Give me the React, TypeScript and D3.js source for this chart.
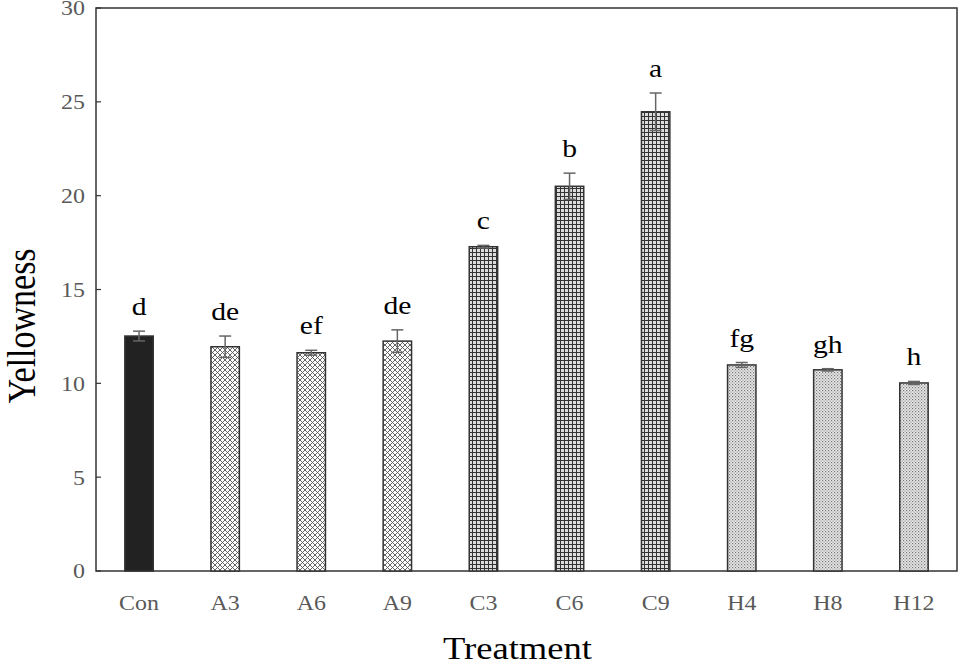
import React from "react";
import * as d3 from "d3";

const categories = ["Con", "A3", "A6", "A9", "C3", "C6", "C9", "H4", "H8", "H12"];
const values = [12.52, 11.95, 11.63, 12.25, 17.28, 20.5, 24.47, 10.98, 10.72, 10.02];
const errors = [0.26, 0.57, 0.13, 0.6, 0.07, 0.7, 1.0, 0.13, 0.06, 0.08];
const letters = ["d", "de", "ef", "de", "c", "b", "a", "fg", "gh", "h"];
const groups = ["solid", "cross", "cross", "cross", "grid", "grid", "grid", "dots", "dots", "dots"];
const yTicks = [0, 5, 10, 15, 20, 25, 30];

const W = 959, H = 664;
const M = { left: 96, right: 2, top: 8, bottom: 93 };
const SX = 1.14;

export default function App() {
  const x = d3.scaleBand<string>().domain(categories).range([M.left, W - M.right]).paddingInner(0.67).paddingOuter(0.335);
  const y = d3.scaleLinear().domain([0, 30]).range([H - M.bottom, M.top]);
  const fillFor = (g: string) =>
    g === "solid" ? "#222" : g === "cross" ? "url(#pCross)" : g === "grid" ? "url(#pGrid)" : "url(#pDots)";
  const font = "'Liberation Serif', 'Times New Roman', serif";
  return (
    <svg width={W} height={H} style={{ position: "absolute", left: 0, top: 0 }} fontFamily={font}>
      <defs>
        <pattern id="pCross" width="5" height="5" patternUnits="userSpaceOnUse">
          <rect width="5" height="5" fill="#fff" />
          <path d="M0,0 L5,5 M5,0 L0,5" stroke="#555" strokeWidth="0.9" />
        </pattern>
        <pattern id="pGrid" width="4" height="4" patternUnits="userSpaceOnUse">
          <rect width="4" height="4" fill="#ddd" />
          <path d="M0,0.5 H4 M0.5,0 V4" stroke="#333" strokeWidth="1" />
        </pattern>
        <pattern id="pDots" width="3" height="3" patternUnits="userSpaceOnUse">
          <rect width="3" height="3" fill="#e8e8e8" />
          <rect x="0" y="0" width="1.2" height="1.2" fill="#777" />
          <rect x="1.5" y="1.5" width="1.2" height="1.2" fill="#999" />
        </pattern>
      </defs>
      <rect x={M.left} y={M.top} width={W - M.right - M.left} height={H - M.bottom - M.top} fill="none" stroke="#333" strokeWidth={1.5} />
      {yTicks.map((t) => (
        <g key={t}>
          <line x1={M.left} x2={M.left + 5} y1={y(t)} y2={y(t)} stroke="#333" strokeWidth={1.2} />
          <text transform={`translate(${M.left - 11},${y(t)}) scale(${SX},1)`} dy="0.35em" textAnchor="end" fontSize={21} fill="#595959">{t}</text>
        </g>
      ))}
      {categories.map((c, i) => {
        const bx = x(c)!;
        const bw = x.bandwidth();
        const cx = bx + bw / 2;
        return (
          <g key={c}>
            <rect x={bx} y={y(values[i])} width={bw} height={y(0) - y(values[i])} fill={fillFor(groups[i])} stroke="#333" strokeWidth={1.5} />
            <line x1={cx} x2={cx} y1={y(values[i] - errors[i])} y2={y(values[i] + errors[i])} stroke="#666" strokeWidth={1.5} />
            <line x1={cx - 6} x2={cx + 6} y1={y(values[i] + errors[i])} y2={y(values[i] + errors[i])} stroke="#666" strokeWidth={1.5} />
            <line x1={cx - 6} x2={cx + 6} y1={y(values[i] - errors[i])} y2={y(values[i] - errors[i])} stroke="#666" strokeWidth={1.5} />
            <text transform={`translate(${cx},${y(values[i] + errors[i]) - 16}) scale(${SX},1)`} textAnchor="middle" fontSize={26} fill="#000">{letters[i]}</text>
            <text transform={`translate(${cx},${y(0) + 39}) scale(${SX},1)`} textAnchor="middle" fontSize={21} fill="#595959">{c}</text>
          </g>
        );
      })}
      <text transform={`translate(${(M.left + W - M.right) / 2 - 9},659) scale(1.18,1)`} textAnchor="middle" fontSize={31} fill="#000">Treatment</text>
      <text transform={`translate(35, 326) scale(1.15,1) rotate(-90)`} textAnchor="middle" fontSize={34} fill="#000">Yellowness</text>
    </svg>
  );
}
